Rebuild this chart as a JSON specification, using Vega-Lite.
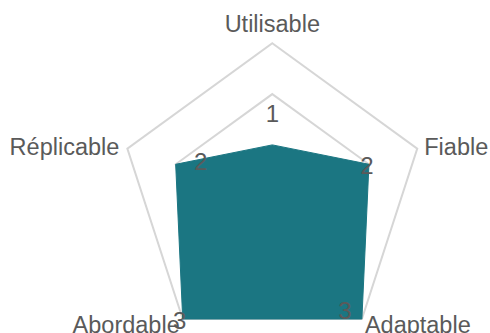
{
  "$schema": "https://vega.github.io/schema/vega-lite/v6.json",
  "width": 490,
  "height": 333,
  "autosize": "none",
  "padding": 0,
  "background": "white",
  "config": {"view": {"stroke": null}, "text": {"font": "Liberation Sans", "color": "#5a5a5a"}},
  "datasets": {
    "scores": [
      {"critere": "Utilisable", "idx": 0, "valeur": 1},
      {"critere": "Fiable", "idx": 1, "valeur": 2},
      {"critere": "Adaptable", "idx": 2, "valeur": 3},
      {"critere": "Abordable", "idx": 3, "valeur": 3},
      {"critere": "Réplicable", "idx": 4, "valeur": 2}
    ],
    "grille": [
      {"niveau": 2, "idx": 0}, {"niveau": 2, "idx": 1}, {"niveau": 2, "idx": 2}, {"niveau": 2, "idx": 3}, {"niveau": 2, "idx": 4},
      {"niveau": 3, "idx": 0}, {"niveau": 3, "idx": 1}, {"niveau": 3, "idx": 2}, {"niveau": 3, "idx": 3}, {"niveau": 3, "idx": 4}
    ]
  },
  "encoding": {
    "x": {"field": "px", "type": "quantitative", "scale": {"domain": [-5.36, 4.285], "nice": false, "zero": false}, "axis": null},
    "y": {"field": "py", "type": "quantitative", "scale": {"domain": [-2.703, 3.852], "nice": false, "zero": false}, "axis": null}
  },
  "layer": [
    {
      "data": {"name": "grille"},
      "transform": [
        {"calculate": "datum.niveau * sin(2 * PI * datum.idx / 5)", "as": "px"},
        {"calculate": "datum.niveau * cos(2 * PI * datum.idx / 5)", "as": "py"}
      ],
      "mark": {"type": "line", "interpolate": "linear-closed", "stroke": "#d6d6d6", "strokeWidth": 2},
      "encoding": {
        "detail": {"field": "niveau", "type": "nominal"},
        "order": {"field": "idx", "type": "quantitative"}
      }
    },
    {
      "data": {"name": "scores"},
      "transform": [
        {"calculate": "datum.valeur * sin(2 * PI * datum.idx / 5)", "as": "px"},
        {"calculate": "datum.valeur * cos(2 * PI * datum.idx / 5)", "as": "py"}
      ],
      "layer": [
        {
          "mark": {"type": "line", "interpolate": "linear-closed", "fill": "#1B7682", "stroke": "#1B7682", "strokeWidth": 1},
          "encoding": {"order": {"field": "idx", "type": "quantitative"}}
        },
        {
          "transform": [{"filter": "datum.idx == 0"}],
          "mark": {"type": "text", "fontSize": 24, "align": "center", "baseline": "middle", "dy": -30},
          "encoding": {"text": {"field": "valeur", "type": "quantitative"}}
        },
        {
          "transform": [{"filter": "datum.idx == 1"}],
          "mark": {"type": "text", "fontSize": 24, "align": "center", "baseline": "middle", "dx": -2, "dy": 3},
          "encoding": {"text": {"field": "valeur", "type": "quantitative"}}
        },
        {
          "transform": [{"filter": "datum.idx == 2"}],
          "mark": {"type": "text", "fontSize": 24, "align": "center", "baseline": "middle", "dx": -17, "dy": -7},
          "encoding": {"text": {"field": "valeur", "type": "quantitative"}}
        },
        {
          "transform": [{"filter": "datum.idx == 3"}],
          "mark": {"type": "text", "fontSize": 24, "align": "center", "baseline": "middle", "dx": -3, "dy": 3},
          "encoding": {"text": {"field": "valeur", "type": "quantitative"}}
        },
        {
          "transform": [{"filter": "datum.idx == 4"}],
          "mark": {"type": "text", "fontSize": 24, "align": "center", "baseline": "middle", "dx": 25, "dy": -1},
          "encoding": {"text": {"field": "valeur", "type": "quantitative"}}
        }
      ]
    },
    {
      "data": {"name": "scores"},
      "transform": [
        {"calculate": "3 * sin(2 * PI * datum.idx / 5)", "as": "px"},
        {"calculate": "3 * cos(2 * PI * datum.idx / 5)", "as": "py"}
      ],
      "layer": [
        {
          "transform": [{"filter": "datum.idx == 0"}],
          "mark": {"type": "text", "fontSize": 23.5, "align": "center", "baseline": "alphabetic", "dy": -11},
          "encoding": {"text": {"field": "critere"}}
        },
        {
          "transform": [{"filter": "datum.idx == 1"}],
          "mark": {"type": "text", "fontSize": 23.5, "align": "left", "baseline": "alphabetic", "dx": 7, "dy": 6},
          "encoding": {"text": {"field": "critere"}}
        },
        {
          "transform": [{"filter": "datum.idx == 4"}],
          "mark": {"type": "text", "fontSize": 23.5, "align": "right", "baseline": "alphabetic", "dx": -8, "dy": 6},
          "encoding": {"text": {"field": "critere"}}
        },
        {
          "transform": [{"filter": "datum.idx == 2"}],
          "mark": {"type": "text", "fontSize": 23.5, "align": "left", "baseline": "alphabetic", "dx": 3, "dy": 14},
          "encoding": {"text": {"field": "critere"}}
        },
        {
          "transform": [{"filter": "datum.idx == 3"}],
          "mark": {"type": "text", "fontSize": 23.5, "align": "right", "baseline": "alphabetic", "dx": -3, "dy": 14},
          "encoding": {"text": {"field": "critere"}}
        }
      ]
    }
  ]
}
